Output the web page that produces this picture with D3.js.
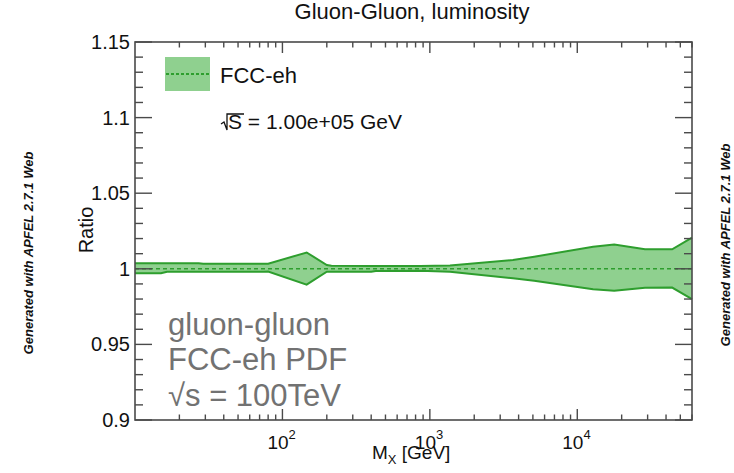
<!DOCTYPE html>
<html>
<head>
<meta charset="utf-8">
<script src="https://cdn.jsdelivr.net/npm/d3@7"></script>
<style>
  html, body { margin: 0; padding: 0; background: #fff; }
  svg { display: block; font-family: "Liberation Sans", Arial, sans-serif; }
</style>
</head>
<body>
<svg id="chart" width="734" height="473"></svg>
<script>
// Gluon-gluon luminosity ratio, FCC-eh PDF at sqrt(s) = 100 TeV
const massGeV = [10, 15, 16.5, 27, 29, 75, 80, 146, 200, 215, 400, 430, 860, 1370, 3660, 5100, 12800, 17800, 28800, 44000, 60000];
const ratioUpper = [1.0037, 1.0037, 1.0037, 1.0037, 1.0033, 1.0033, 1.0033, 1.0108, 1.0025, 1.0020, 1.0019, 1.0018, 1.0018, 1.0022, 1.0058, 1.0080, 1.0146, 1.0160, 1.0129, 1.0129, 1.0206];
const ratioLower = [0.9970, 0.9970, 0.9980, 0.9980, 0.9980, 0.9980, 0.9982, 0.9895, 0.9981, 0.9981, 0.9981, 0.9986, 0.9987, 0.9981, 0.9937, 0.9921, 0.9864, 0.9855, 0.9874, 0.9876, 0.9800];
const ratioCentral = [1, 1, 1, 1, 1, 1, 1, 1, 1, 1, 1, 1, 1, 1, 1, 1, 1, 1, 1, 1, 1];

const xMajorTicks = [100, 1000, 10000];
const xMajorExponents = ["2", "3", "4"];
const yMajorTicks = [0.9, 0.95, 1.0, 1.05, 1.1, 1.15];
const yMajorLabels = ["0.9", "0.95", "1", "1.05", "1.1", "1.15"];

const seriesName = "FCC-eh";
const titleText = "Gluon-Gluon, luminosity";
const noteLines = ["gluon-gluon", "FCC-eh PDF", "\u221As = 100TeV"];
const sideText = "Generated with APFEL 2.7.1 Web";

const frame = { left: 135, top: 42, right: 692, bottom: 420 };
const bandFill = "#8fd08f";
const bandLine = "#2e9e2e";
const axisColor = "#4a4a4a";

const svg = d3.select("#chart");

const x = d3.scaleLog().domain([10, 60000]).range([frame.left, frame.right]);
const y = d3.scaleLinear().domain([0.9, 1.15]).range([frame.bottom, frame.top]);

const rows = massGeV.map((m, i) => ({ m, hi: ratioUpper[i], lo: ratioLower[i], c: ratioCentral[i] }));

// uncertainty band
svg.append("path")
  .datum(rows)
  .attr("fill", bandFill)
  .attr("d", d3.area().x(d => x(d.m)).y0(d => y(d.lo)).y1(d => y(d.hi)));

const edge = key => d3.line().x(d => x(d.m)).y(d => y(d[key]));
["hi", "lo"].forEach(k => {
  svg.append("path").datum(rows)
    .attr("fill", "none").attr("stroke", bandLine).attr("stroke-width", 2)
    .attr("d", edge(k));
});
svg.append("path").datum(rows)
  .attr("fill", "none").attr("stroke", bandLine).attr("stroke-width", 1.6)
  .attr("stroke-dasharray", "4,3")
  .attr("d", edge("c"));

// frame
svg.append("rect")
  .attr("x", frame.left).attr("y", frame.top)
  .attr("width", frame.right - frame.left).attr("height", frame.bottom - frame.top)
  .attr("fill", "none").attr("stroke", axisColor).attr("stroke-width", 1.6);

const ticks = svg.append("g").attr("stroke", axisColor).attr("stroke-width", 1.4);

// y ticks, both sides, pointing inward
const yMinor = d3.range(0, 26).map(i => 0.9 + i * 0.01);
yMinor.forEach(v => {
  const isMajor = Math.abs(Math.round(v * 20) - v * 20) < 1e-6;
  const len = isMajor ? 17 : 8;
  ticks.append("line").attr("x1", frame.left).attr("x2", frame.left + len).attr("y1", y(v)).attr("y2", y(v));
  ticks.append("line").attr("x1", frame.right).attr("x2", frame.right - len).attr("y1", y(v)).attr("y2", y(v));
});

// x ticks, bottom and top
const xMinor = [];
[10, 100, 1000, 10000].forEach(dec => {
  for (let k = 2; k <= 9; k++) {
    const v = dec * k;
    if (v <= 60000) xMinor.push(v);
  }
});
xMinor.forEach(v => {
  ticks.append("line").attr("x1", x(v)).attr("x2", x(v)).attr("y1", frame.bottom).attr("y2", frame.bottom - 5.5);
  ticks.append("line").attr("x1", x(v)).attr("x2", x(v)).attr("y1", frame.top).attr("y2", frame.top + 5.5);
});
xMajorTicks.forEach(v => {
  ticks.append("line").attr("x1", x(v)).attr("x2", x(v)).attr("y1", frame.bottom).attr("y2", frame.bottom - 11);
  ticks.append("line").attr("x1", x(v)).attr("x2", x(v)).attr("y1", frame.top).attr("y2", frame.top + 11);
});

// y tick labels
yMajorTicks.forEach((v, i) => {
  svg.append("text").attr("x", frame.left - 5).attr("y", y(v) + 7)
    .attr("text-anchor", "end").attr("font-size", 20).attr("fill", "#111")
    .text(yMajorLabels[i]);
});

// x tick labels as powers of ten
xMajorTicks.forEach((v, i) => {
  const t = svg.append("text").attr("x", x(v) - 15).attr("y", 449)
    .attr("font-size", 19).attr("fill", "#111");
  t.append("tspan").text("10");
  t.append("tspan").attr("font-size", 13).attr("dy", -10).text(xMajorExponents[i]);
});

// axis titles
const xt = svg.append("text").attr("x", 372).attr("y", 459).attr("font-size", 19).attr("fill", "#111");
xt.append("tspan").text("M");
xt.append("tspan").attr("font-size", 13).attr("dy", 5).text("X");
xt.append("tspan").attr("dy", -5).text(" [GeV]");

svg.append("text")
  .attr("transform", "translate(93,230) rotate(-90)")
  .attr("text-anchor", "middle").attr("font-size", 20).attr("fill", "#111")
  .text("Ratio");

// title
svg.append("text").attr("x", 412).attr("y", 19).attr("text-anchor", "middle")
  .attr("font-size", 22).attr("fill", "#111").text(titleText);

// legend
svg.append("rect").attr("x", 165).attr("y", 57).attr("width", 45).attr("height", 34).attr("fill", bandFill);
svg.append("line").attr("x1", 166).attr("x2", 209).attr("y1", 74).attr("y2", 74)
  .attr("stroke", bandLine).attr("stroke-width", 1.8).attr("stroke-dasharray", "3,2");
svg.append("text").attr("x", 220).attr("y", 83).attr("font-size", 22).attr("fill", "#111").text(seriesName);

// sqrt(S) label with a drawn radical
svg.append("path")
  .attr("d", "M221,124 L224,122 L227,130 L227,114 L244,114")
  .attr("fill", "none").attr("stroke", "#111").attr("stroke-width", 1.3);
svg.append("text").attr("x", 228).attr("y", 129).attr("font-size", 21).attr("fill", "#111")
  .text("S = 1.00e+05 GeV");

// grey annotation
noteLines.forEach((line, i) => {
  svg.append("text").attr("x", 168).attr("y", [335, 370, 406][i])
    .attr("font-size", 31).attr("fill", "#727272").text(line);
});

// side credits
svg.append("text")
  .attr("transform", "translate(33,253) rotate(-90)")
  .attr("text-anchor", "middle").attr("font-size", 13).attr("font-weight", "bold").attr("font-style", "italic")
  .attr("fill", "#111").text(sideText);
svg.append("text")
  .attr("transform", "translate(730,245) rotate(-90)")
  .attr("text-anchor", "middle").attr("font-size", 13).attr("font-weight", "bold").attr("font-style", "italic")
  .attr("fill", "#111").text(sideText);
</script>
</body>
</html>
